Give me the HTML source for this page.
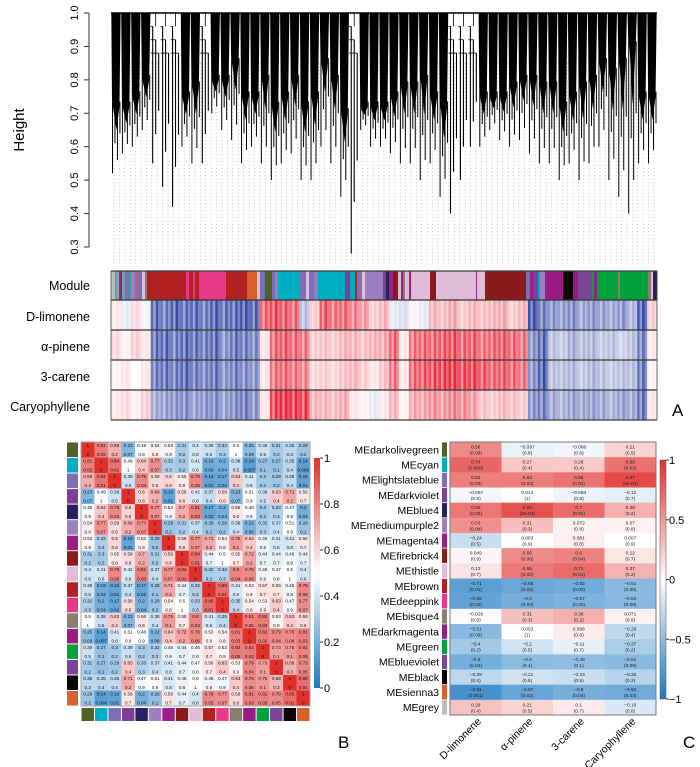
<!DOCTYPE html>
<html><head><meta charset="utf-8"><style>
html,body{margin:0;padding:0;background:#fff;width:700px;height:767px;overflow:hidden}
svg{display:block;font-family:"Liberation Sans",sans-serif}
</style></head><body>
<svg id="fig" width="700" height="767" viewBox="0 0 700 767" xmlns="http://www.w3.org/2000/svg">
<g id="dendro"></g>
<g id="yaxis"></g>
<text x="0" y="0" transform="translate(24,130) rotate(-90)" text-anchor="middle" font-size="15">Height</text>
<g id="tracks"></g>
<text x="672" y="416" font-size="17">A</text>
<g id="panelB"></g>
<text x="338" y="748" font-size="17">B</text>
<g id="panelC"></g>
<text x="683" y="748" font-size="17">C</text>
</svg>
<script>
// ---------- data ----------
const dendroCore=[0.72,0.72,0.75,0.8,0.98,0.98,0.98,0.75,0.78,0.98,0.8,0.8,0.85,0.75,0.75,0.8,0.72,0.75,0.8,0.72,0.75,0.85,0.8,0.7,0.98,0.72,0.72,0.72,0.75,0.78,0.78,0.8,0.75,0.72,0.98,0.98,0.98,0.75,0.75,0.75,0.78,0.8,0.8,0.78,0.78,0.72,0.75,0.78,0.8,0.85,0.82,0.85,0.9,0.75,0.75];
const dendroTip=[0.52,0.58,0.6,0.65,0.55,0.48,0.42,0.6,0.55,0.55,0.7,0.65,0.62,0.55,0.6,0.55,0.5,0.55,0.58,0.5,0.5,0.6,0.55,0.45,0.28,0.65,0.6,0.6,0.58,0.55,0.55,0.5,0.55,0.45,0.4,0.5,0.6,0.6,0.65,0.62,0.6,0.62,0.58,0.55,0.55,0.5,0.55,0.5,0.55,0.6,0.5,0.45,0.4,0.55,0.55];
const heightTicks=[0.3,0.4,0.5,0.6,0.7,0.8,0.9,1.0];
const moduleSegments=[["#bdbdbd",4],["#5aa0a0",2],["#a0a0c0",2],["#9b1f84",3],["#70a0a0",3],["#7b6fb5",4],["#2aa0a0",2],["#9b7fc0",4],["#c06080",3],["#7b6fb5",4],["#e0bcd8",3],["#8b7d6b",2],
["#b22222",39],["#e8388a",3],["#b22222",4],["#e8388a",2],["#b22222",4],["#e8388a",27],["#b22222",21],["#d9602e",10],["#e0bcd8",3],["#7b6fb5",5],["#4f6228",7],["#7b6fb5",3],["#9b7fc0",3],["#00aec4",22],["#7b6fb5",6],["#e0bcd8",3],["#7b6fb5",5],["#9b7fc0",4],["#00aec4",27],["#7f3f98",5],["#00aec4",5],["#b22222",2],["#7b6fb5",5],["#e0bcd8",3],["#9b7fc0",18],["#7f3f98",3],["#262262",3],["#9b1f84",4],["#8b1a1a",5],["#e0bcd8",3],["#9b1f84",2],["#8b7d6b",2],["#e0bcd8",4],["#9b1f84",2],["#e0bcd8",4],["#e0bcd8",15],["#8b1a1a",6],["#e0bcd8",40],["#9b1f84",1],["#e0bcd8",8],["#8b1a1a",41],["#7b6fb5",4],["#9b1f84",3],["#7f3f98",5],["#00aec4",2],["#9b7fc0",5],["#9b1b85",18],["#0a0805",10],["#9b1b85",5],["#7b4599",14],["#00a33b",2],["#9b1f84",3],["#00a33b",21],["#8b7d6b",2],["#00a33b",28],["#8b7d6b",3],["#e0bcd8",2],["#262262",4]];
const traitNames=["D-limonene","α-pinene","3-carene","Caryophyllene"];
const traitLimonene=[0.1,-0.1,0.15,-0.05,-0.7,-0.6,-0.75,-0.65,-0.7,-0.6,-0.75,-0.65,-0.7,-0.8,-0.7,0.6,0.7,0.65,0.6,-0.3,0.2,0.65,0.55,0.6,0.5,0.4,0.2,0.3,-0.1,-0.15,0.05,-0.1,0.3,0.25,0.35,0.2,0.3,0.25,0.3,0.35,0.2,0.3,-0.8,-0.6,-0.5,-0.45,-0.55,-0.4,-0.5,-0.45,-0.4,-0.5,-0.35,-0.8,0.2];
const traitPinene=[0.15,0.05,0.2,0.1,-0.65,-0.7,-0.6,-0.7,-0.65,-0.6,-0.7,-0.5,-0.65,-0.6,-0.55,0.1,0.6,0.65,0.6,0.55,0.2,0.25,0.2,0.3,0.3,0.25,0.3,0.35,0.6,0.1,0.55,0.6,0.6,0.65,0.7,0.6,0.65,0.55,0.6,0.65,0.6,0.55,-0.5,-0.7,-0.3,-0.25,-0.4,-0.3,-0.35,-0.25,-0.3,-0.2,-0.3,-0.6,0.1];
const traitCarene=[0.05,0.1,0.0,0.1,-0.6,-0.65,-0.6,-0.7,-0.6,-0.55,-0.65,-0.5,-0.6,-0.55,-0.5,0.1,0.55,0.6,0.55,0.5,0.15,0.2,0.15,0.25,0.3,0.2,0.1,0.25,0.55,0.1,0.6,0.65,0.7,0.75,0.8,0.7,0.75,0.65,0.6,0.65,0.6,0.55,-0.5,-0.75,-0.3,-0.3,-0.35,-0.25,-0.35,-0.3,-0.25,-0.3,-0.3,-0.65,0.05];
const traitCaryo=[0.1,0.15,0.05,0.2,-0.4,-0.45,-0.5,-0.55,-0.45,-0.5,-0.55,-0.45,-0.55,-0.6,-0.5,0.1,0.75,0.85,0.8,0.75,0.3,0.3,0.25,0.35,0.1,0.05,-0.1,0.1,0.3,0.05,0.35,0.35,0.45,0.4,0.5,0.45,0.4,0.25,0.2,0.3,0.25,0.2,-0.5,-0.6,-0.4,-0.35,-0.45,-0.4,-0.45,-0.4,-0.35,-0.45,-0.4,-0.65,0.1];
const moduleNames=["darkolivegreen","cyan","lightslateblue","darkviolet","blue4","mediumpurple2","magenta4","firebrick4","thistle","brown","deeppink","bisque4","darkmagenta","green","blueviolet","black","sienna3","grey"];
const moduleColors=["#4f6228","#00aec4","#7b6fb5","#7f3f98","#262262","#9b7fc0","#9b1f84","#8b1a1a","#e0bcd8","#b22222","#e8388a","#8b7d6b","#9b1b85","#00a33b","#7b4599","#0a0805","#d9602e","#bdbdbd"];
const corrB=[
[1,.81,.69,.23,.48,.54,.53,.31,.4,.39,.32,.5,.25,.39,.31,.35,.29],
[.81,1,.84,.49,.64,.77,.32,.3,.41,.19,.2,.38,.14,.27,.27,.35,.14],
[.69,.84,1,.39,.79,.59,.6,.55,.79,.16,.17,.63,.41,.3,.29,.36,.16],
[.23,.49,.39,1,.6,.69,.16,.58,.42,.37,.58,.23,.51,.39,.63,.71,.56],
[.48,.64,.79,.6,1,.77,.53,.7,.81,.17,.2,.56,.48,.3,.33,.47,.2],
[.54,.77,.59,.69,.77,1,.28,.31,.37,.28,.28,.38,.22,.32,.37,.51,.28],
[.53,.32,.6,.16,.53,.28,1,.59,.77,.71,.54,.75,.64,.46,.41,.41,.56],
[.31,.3,.55,.58,.7,.31,.59,1,.84,.44,.5,.55,.72,.44,.44,.46,.44],
[.4,.41,.79,.42,.81,.37,.77,.84,1,.32,.33,.8,.78,.46,.47,.5,.4],
[.39,.19,.16,.37,.17,.28,.71,.44,.32,1,.85,.41,.53,.57,.56,.46,.79],
[.32,.2,.17,.58,.2,.28,.54,.5,.33,.85,1,.35,.54,.53,.63,.47,.77],
[.5,.38,.63,.23,.56,.38,.75,.55,.8,.41,.35,1,.81,.82,.53,.63,.59],
[.25,.14,.41,.51,.48,.22,.64,.72,.78,.53,.54,.81,1,.82,.79,.78,.81],
[.39,.27,.3,.39,.3,.32,.46,.44,.46,.57,.53,.82,.82,1,.73,.75,.81],
[.31,.27,.29,.63,.33,.37,.41,.44,.47,.56,.63,.53,.79,.73,1,.68,.79],
[.35,.35,.36,.71,.47,.51,.41,.46,.5,.46,.47,.63,.78,.75,.68,1,.85],
[.29,.14,.16,.56,.2,.26,.56,.44,.4,.79,.77,.59,.81,.81,.79,.85,1]];
const pvalB=[
[0,.03,.2,.07,.9,.8,.9,.2,.6,.5,.3,1,.09,.5,.2,.3,.2],
[.03,0,.01,1,.4,.07,.3,.2,.6,.03,.04,.5,.007,.1,.1,.4,.006],
[.2,.01,0,.5,.04,.6,.6,.8,.05,.01,.02,.4,.6,.2,.2,.4,.01],
[.07,1,.5,0,.6,.2,.01,.6,.8,.4,.6,.07,.9,.5,.4,.2,.7],
[.9,.4,.04,.6,0,.07,.9,.2,.03,.02,.04,.6,.9,.2,.3,.9,.04],
[.8,.07,.6,.2,.07,0,.2,.2,.4,.1,.2,.4,.06,.3,.4,.9,.1],
[.9,.3,.6,.01,.9,.2,0,.6,.07,.2,.8,.1,.4,.9,.8,.8,.7],
[.2,.2,.8,.6,.2,.2,.6,0,.01,.7,1,.7,.2,.7,.7,.8,.7],
[.6,.6,.05,.6,.03,.4,.07,.01,0,.2,.3,.04,.06,.9,.8,1,.6],
[.5,.03,.01,.4,.02,.1,.2,.7,.2,0,.01,.6,.9,.7,.7,.8,.05],
[.3,.04,.02,.6,.04,.2,.8,1,.3,.01,0,.4,.8,.9,.4,.9,.07],
[1,.5,.4,.07,.6,.4,.1,.7,.04,.6,.4,0,.05,.03,.9,.4,.6],
[.09,.007,.6,.9,.9,.06,.4,.2,.06,.9,.8,.03,0,.02,.04,.06,.03],
[.5,.1,.2,.5,.2,.3,.9,.7,.9,.7,.9,.05,.02,0,.1,.1,.05],
[.2,.1,.2,.4,.3,.4,.8,.7,.8,.7,.4,.9,.04,.1,0,.3,.05],
[.3,.4,.4,.2,.9,.9,.8,.8,1,.8,.9,.4,.06,.1,.3,0,.01],
[.2,.006,.01,.7,.04,.1,.7,.7,.8,.05,.07,.6,.03,.03,.05,.01,0]];
const corrC=[[.56,-0.097,-0.066,.21],[.74,.27,.26,.68],[.62,.63,.68,.87],[-0.057,0.014,-0.084,-0.12],[.66,.83,.7,.38],[.53,.31,.072,.07],[-0.24,0.003,0.081,0.007],[0.049,.56,.6,.12],[.13,.65,.71,.37],[-0.71,-0.65,-0.62,-0.51],[-0.68,-0.6,-0.57,-0.52],[-0.026,.31,.38,.071],[-0.51,0.003,0.096,-0.28],[-0.4,-0.2,-0.11,-0.37],[-0.6,-0.5,-0.48,-0.51],[-0.29,-0.21,-0.23,-0.32],[-0.81,-0.67,-0.6,-0.62],[0.29,0.21,0.1,-0.16]];
const pvalC=[["0.08","0.8","0.8","0.5"],["0.008","0.4","0.4","0.02"],["0.03","0.03","0.01","2e-04"],["0.9","1","0.8","0.7"],["0.02","8e-04","0.01","0.2"],["0.08","0.3","0.8","0.8"],["0.5","0.9","0.8","0.9"],["0.9","0.06","0.04","0.7"],["0.7","0.02","0.01","0.2"],["0.01","0.02","0.03","0.09"],["0.02","0.04","0.05","0.08"],["0.9","0.3","0.2","0.8"],["0.09","1","0.8","0.4"],["0.2","0.5","0.7","0.2"],["0.04","0.1","0.1","0.09"],["0.4","0.5","0.5","0.3"],["0.001","0.02","0.04","0.03"],["0.4","0.5","0.7","0.6"]];
const colorbarBTicks=[0,0.2,0.4,0.6,0.8,1];
const colorbarCTicks=[1,0.5,0,-0.5,-1];

// ---------- helpers ----------
const NS="http://www.w3.org/2000/svg";
function mk(tag,attrs,parent){const e=document.createElementNS(NS,tag);for(const k in attrs)e.setAttribute(k,attrs[k]);parent.appendChild(e);return e;}
function mix(c1,c2,t){t=Math.max(0,Math.min(1,t));const a=[1,3,5].map(i=>parseInt(c1.substr(i,2),16)),b=[1,3,5].map(i=>parseInt(c2.substr(i,2),16));return "rgb("+a.map((v,i)=>Math.round(v+(b[i]-v)*t)).join(",")+")";}
function divColor(v,neg,pos,span){return v>=0?mix("#ffffff",pos,v/span):mix("#ffffff",neg,-v/span);}
function fmt(v){return String(v).replace(/^-/,"−");}

// ---------- dendrogram ----------
const X0=111,X1=657,NB=dendroCore.length,BW=(X1-X0)/NB;
const yH=h=>13+(1-h)*(247-13)/0.7;
const dg=document.getElementById("dendro");
for(let x=X0+3;x<X1;x+=5.4){const l=mk("line",{x1:x,x2:x,y1:yH(0.85),y2:266,stroke:"#999","stroke-width":0.6,"stroke-dasharray":"1,2.5"},dg);}
mk("line",{x1:X0,x2:X1,y1:yH(1),y2:yH(1),stroke:"#000","stroke-width":1.5},dg);
dendroCore.forEach((c,i)=>{
  const x=X0+i*BW;
  const t=dendroTip[i];
  if(c<0.97){
    const y0=yH(1),y1=yH(c),y2=yH(c-(c-t)*0.35);
    const r=mk("polygon",{points:`${x+0.3},${y0} ${x+BW-0.3},${y0} ${x+BW*0.85},${y1} ${x+BW*0.55},${y2} ${x+BW*0.25},${y1+4} ${x+BW*0.1},${y1-6}`,fill:"#000"},dg);
    
    [[0.15,1],[0.4,0.55],[0.65,0.8],[0.9,0.4]].forEach(([f,k])=>{
      const l=mk("line",{x1:x+BW*f,x2:x+BW*f,y1:yH(c)-5,y2:yH(c-(c-t)*k),stroke:"#000","stroke-width":1},dg);
      
    });
  } else {
    // sparse region: a few nested branches hanging from horizontal merges
    [[0.2,1,0.96],[0.5,0.75,0.92],[0.8,0.55,0.88]].forEach(([f,k,top])=>{
      const l=mk("line",{x1:x+BW*f,x2:x+BW*f,y1:yH(top),y2:yH(0.9-(0.9-t)*k),stroke:"#000","stroke-width":1.1},dg);
      
      mk("line",{x1:x,x2:x+BW*f,y1:yH(top),y2:yH(top),stroke:"#000","stroke-width":0.8},dg);
    });
    mk("line",{x1:x+BW*0.5,x2:x+BW*0.5,y1:yH(1),y2:yH(0.96),stroke:"#000","stroke-width":0.8},dg);
  }
});
const ya=document.getElementById("yaxis");
mk("line",{x1:89,x2:89,y1:yH(1),y2:yH(0.3),stroke:"#333","stroke-width":1},ya);
heightTicks.forEach(h=>{
  mk("line",{x1:84,x2:89,y1:yH(h),y2:yH(h),stroke:"#333"},ya);
  const t=mk("text",{x:0,y:0,transform:`translate(78,${yH(h)}) rotate(-90)`,"text-anchor":"middle","font-size":11},ya);
  t.textContent=h.toFixed(1);
});

// ---------- tracks ----------
const tg=document.getElementById("tracks");
const tot=moduleSegments.reduce((s,d)=>s+d[1],0);let acc=0;
moduleSegments.forEach(([c,w])=>{
  const r=mk("rect",{x:X0+acc/tot*(X1-X0),y:271,width:w/tot*(X1-X0)+0.3,height:29,fill:c},tg);
  acc+=w;
});
const traits=[traitLimonene,traitPinene,traitCarene,traitCaryo];
traits.forEach((arr,ti)=>{
  const y0=300+ti*30;
  arr.forEach((v,i)=>{
    [1,0.6,1.15,0.8].forEach((k,j)=>{
      const r=mk("rect",{x:X0+i*BW+j*BW/4,y:y0,width:BW/4+0.3,height:30,fill:divColor(v*k,"#3548a5","#e8283a",0.85)},tg);
      
    });
  });
});
[271,300,330,360,390,420].forEach(y=>mk("line",{x1:X0,x2:X1,y1:y,y2:y,stroke:"#333","stroke-width":1.2},tg));
mk("rect",{x:X0,y:271,width:X1-X0,height:149,fill:"none",stroke:"#444","stroke-width":0.8},tg);
["Module"].concat(traitNames).forEach((n,i)=>{
  const t=mk("text",{x:90,y:291+i*30+(i?0:-1),"text-anchor":"end","font-size":12.5},tg);
  t.textContent=n;
});

// ---------- panel B ----------
const pb=document.getElementById("panelB");
const bx0=81,bx1=310,by0=442,by1=706,n=17,cw=(bx1-bx0)/n,ch=(by1-by0)/n;
for(let i=0;i<n;i++){
  const s=mk("rect",{x:67,y:by0+i*ch+0.5,width:11,height:ch-1,fill:moduleColors[i]},pb);
  
  const s2=mk("rect",{x:bx0+i*cw+0.5,y:708,width:cw-1,height:13,fill:moduleColors[i]},pb);
  
  for(let j=0;j<n;j++){
    const v=corrB[i][j];
    const r=mk("rect",{x:bx0+j*cw,y:by0+i*ch,width:cw+0.2,height:ch+0.2,fill:v>=0.5?mix("#ffffff","#e0302c",(v-0.5)/0.5):mix("#ffffff","#1a78c2",(0.5-v)/0.5)},pb);
    
    const t=mk("text",{x:bx0+j*cw+cw/2,y:by0+i*ch+5,"text-anchor":"middle","font-size":4.6,fill:"#111"},pb);t.textContent=String(v);
    const p=mk("text",{x:bx0+j*cw+cw/2,y:by0+i*ch+ch-1.5,"text-anchor":"middle","font-size":4.6,fill:"#111"},pb);p.textContent=String(pvalB[i][j]);
  }
}
mk("rect",{x:bx0,y:by0,width:bx1-bx0,height:by1-by0,fill:"none",stroke:"#aaa"},pb);
const defs=mk("defs",{},document.getElementById("fig"));
const gB=mk("linearGradient",{id:"gB",x1:0,y1:1,x2:0,y2:0},defs);
[["0","#1a78c2"],["0.5","#ffffff"],["1","#e0302c"]].forEach(([o,c])=>mk("stop",{offset:o,"stop-color":c},gB));
const cbB=mk("rect",{x:314,y:458,width:6,height:230,fill:"url(#gB)"},pb);

colorbarBTicks.forEach(v=>{const y=688-v*230;mk("line",{x1:320,x2:323,y1:y,y2:y,stroke:"#333"},pb);
  const t=mk("text",{x:324,y:y+4,"font-size":11},pb);t.textContent=String(v);});

// ---------- panel C ----------
const pc=document.getElementById("panelC");
const cx0=450,cx1=656,cy0=442,cy1=715,nr=18,nc=4,ccw=(cx1-cx0)/nc,cch=(cy1-cy0)/nr;
for(let i=0;i<nr;i++){
  const s=mk("rect",{x:442,y:cy0+i*cch+0.4,width:5,height:cch-0.8,fill:moduleColors[i]},pc);
  
  const l=mk("text",{x:439,y:cy0+i*cch+cch/2+3.8,"text-anchor":"end","font-size":10.5},pc);
  l.textContent="ME"+moduleNames[i];
  for(let j=0;j<nc;j++){
    const v=corrC[i][j];
    const r=mk("rect",{x:cx0+j*ccw,y:cy0+i*cch,width:ccw+0.2,height:cch+0.2,fill:divColor(v,"#1a78c2","#e0302c",1)},pc);
    
    const t=mk("text",{x:cx0+j*ccw+ccw/2,y:cy0+i*cch+6.5,"text-anchor":"middle","font-size":4.8,fill:"#222"},pc);t.textContent=fmt(v);
    const p=mk("text",{x:cx0+j*ccw+ccw/2,y:cy0+i*cch+12.5,"text-anchor":"middle","font-size":4.8,fill:"#222"},pc);p.textContent="("+pvalC[i][j]+")";
  }
}
mk("rect",{x:cx0,y:cy0,width:cx1-cx0,height:cy1-cy0,fill:"none",stroke:"#777"},pc);
traitNames.forEach((nm,j)=>{
  const x=cx0+j*ccw+ccw/2+6;
  const t=mk("text",{x:0,y:0,transform:`translate(${x},${722}) rotate(-45)`,"text-anchor":"end","font-size":10.5},pc);
  t.textContent=nm;
});
const gC=mk("linearGradient",{id:"gC",x1:0,y1:1,x2:0,y2:0},defs);
[["0","#1a78c2"],["0.5","#ffffff"],["1","#e0302c"]].forEach(([o,c])=>mk("stop",{offset:o,"stop-color":c},gC));
const cbC=mk("rect",{x:660,y:460,width:6,height:239,fill:"url(#gC)",stroke:"#555","stroke-width":0.5},pc);

colorbarCTicks.forEach(v=>{const y=579.5-v*119.5;mk("line",{x1:666,x2:669,y1:y,y2:y,stroke:"#333"},pc);
  const t=mk("text",{x:669,y:y+4,"font-size":11},pc);t.textContent=fmt(v);});
</script>
</body></html>
